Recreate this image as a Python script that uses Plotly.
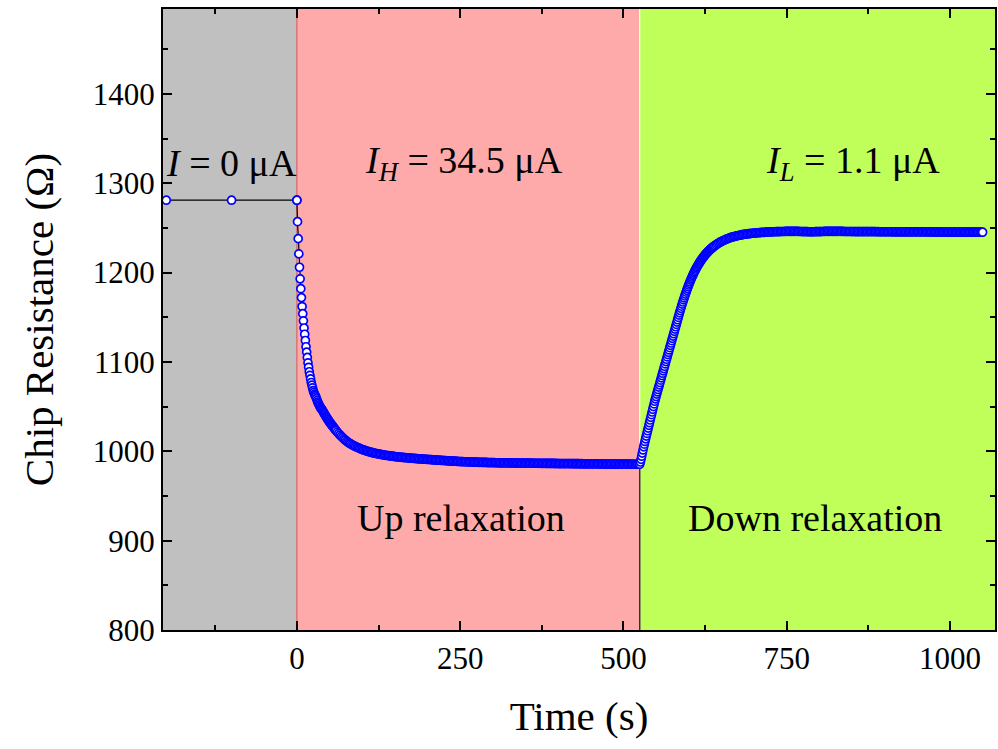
import plotly.graph_objects as go

# ---------------- data ----------------
# Phase boundaries (s)
t_start_up = 0
t_start_down = 525

# I = 0 uA baseline points
t_zero = [-200, -100, 0]
r_zero = [1281, 1281, 1281]

# Up relaxation, 1 s sampling from t = 0
up_fast_start, up_fast_step = 0, 1
r_up_fast = [1281, 1257, 1238, 1221, 1206, 1193, 1182, 1172, 1162, 1154,
             1146, 1138, 1131, 1124, 1117, 1111, 1105, 1099, 1094, 1089,
             1085, 1081, 1077, 1074, 1071, 1068, 1066, 1064, 1062.5, 1061,
             1059, 1057, 1055, 1053.5, 1052, 1050.5, 1049, 1048, 1047, 1046,
             1044.7, 1043.4, 1042.1, 1040.9, 1039.7, 1038.5, 1037.3, 1036.1, 1035, 1033.9,
             1032.8, 1031.8, 1030.8, 1029.8, 1028.9, 1028, 1027, 1026, 1025, 1024.1]

# Up relaxation, 2 s sampling from t = 60
up_slow_start, up_slow_step = 60, 2
r_up_slow = [1023.2, 1021.5, 1019.8, 1018.2, 1016.7, 1015.3, 1013.9, 1012.6, 1011.4, 1010.3,
             1009.3, 1008.4, 1007.5, 1006.7, 1005.9, 1005.2, 1004.5, 1003.8, 1003.2, 1002.6,
             1002.0, 1001.5, 1001.0, 1000.5, 1000.0, 999.6, 999.2, 998.8, 998.4, 998.0,
             997.7, 997.4, 997.1, 996.8, 996.5, 996.2, 996.0, 995.7, 995.5, 995.3,
             995.1, 994.9, 994.7, 994.5, 994.3, 994.1, 993.9, 993.8, 993.6, 993.5,
             993.3, 993.2, 993.0, 992.9, 992.8, 992.6, 992.5, 992.3, 992.2, 992.1,
             992.0, 991.9, 991.8, 991.6, 991.5, 991.4, 991.3, 991.2, 991.1, 991.0,
             990.9, 990.8, 990.7, 990.6, 990.5, 990.4, 990.3, 990.2, 990.1, 990.0,
             989.9, 989.8, 989.7, 989.6, 989.5, 989.4, 989.3, 989.2, 989.1, 989.0,
             988.9, 988.9, 988.8, 988.7, 988.6, 988.5, 988.5, 988.4, 988.3, 988.3,
             988.2, 988.1, 988.1, 988.0, 988.0, 987.9, 987.9, 987.8, 987.8, 987.7,
             987.7, 987.6, 987.6, 987.5, 987.5, 987.5, 987.4, 987.4, 987.4, 987.3,
             987.3, 987.3, 987.2, 987.2, 987.2, 987.1, 987.1, 987.1, 987.0, 987.1,
             987.0, 987.0, 987.0, 986.9, 987.0, 986.9, 986.9, 986.9, 986.8, 986.9,
             986.8, 986.8, 986.8, 986.7, 986.8, 986.7, 986.7, 986.7, 986.7, 986.6,
             986.7, 986.6, 986.6, 986.6, 986.6, 986.5, 986.6, 986.5, 986.5, 986.5,
             986.5, 986.4, 986.5, 986.4, 986.4, 986.4, 986.4, 986.4, 986.3, 986.4,
             986.3, 986.3, 986.3, 986.3, 986.2, 986.3, 986.2, 986.2, 986.2, 986.2,
             986.1, 986.2, 986.1, 986.1, 986.1, 986.1, 986.1, 986.0, 986.1, 986.0,
             986.0, 986.0, 986.0, 986.0, 985.9, 986.0, 985.9, 985.9, 985.9, 985.9,
             985.9, 985.9, 985.8, 985.9, 985.8, 985.8, 985.8, 985.8, 985.8, 985.8,
             985.7, 985.8, 985.7, 985.7, 985.7, 985.7, 985.7, 985.7, 985.6, 985.7,
             985.6, 985.6, 985.6, 985.6, 985.6, 985.6, 985.5, 985.6, 985.5, 985.5,
             985.5, 985.5, 985.5]

# Down relaxation, 1 s sampling from t = 525
down_fast_start, down_fast_step = 525, 1
r_down_fast = [985.5, 988, 991, 994.5, 998, 1001.5, 1005, 1008, 1011, 1014,
               1017, 1020, 1023, 1026, 1029, 1032, 1035, 1038, 1041, 1044,
               1047, 1050, 1053, 1056, 1058.7, 1061.3, 1064, 1066.6, 1069.2, 1071.8,
               1074.4, 1077, 1079.6, 1082.2, 1084.8, 1087.4, 1090, 1092.6, 1095.2, 1097.8,
               1100.4, 1103, 1105.6, 1108.2, 1110.8, 1113.4, 1116, 1118.6, 1121.2, 1123.8,
               1126.4, 1129, 1131.6, 1134.2, 1136.8, 1139.4, 1142, 1144.6, 1147.2, 1149.8,
               1152.4, 1155, 1157.5, 1160, 1162.4, 1164.8, 1167.1, 1169.4, 1171.6, 1173.8,
               1176, 1178.1, 1180.2, 1182.2, 1184.2, 1186.1, 1188, 1189.8, 1191.6, 1193.3,
               1195, 1196.6, 1198.2, 1199.7, 1201.2, 1202.6, 1204, 1205.4, 1206.7, 1208,
               1209.2, 1210.4, 1211.6, 1212.7, 1213.8, 1214.9, 1215.9, 1216.9, 1217.9, 1218.8,
               1219.7, 1220.6, 1221.4, 1222.2, 1223, 1223.8, 1224.5, 1225.2, 1225.9, 1226.6,
               1227.2, 1227.8, 1228.4, 1229, 1229.6, 1230.1]

# Down relaxation, 2 s sampling from t = 642
down_slow_start, down_slow_step = 642, 2
r_down_slow = [1231.2, 1232.2, 1233.1, 1234.0, 1234.8, 1235.5, 1236.2, 1236.9, 1237.5, 1238.1,
               1238.6, 1239.1, 1239.6, 1240.0, 1240.4, 1240.8, 1241.2, 1241.5, 1241.8, 1242.1,
               1242.4, 1242.7, 1242.9, 1243.1, 1243.3, 1243.5, 1243.7, 1243.9, 1244.0, 1244.2,
               1244.3, 1244.5, 1244.6, 1244.7, 1244.8, 1244.9, 1245.0, 1245.1, 1245.2, 1245.3,
               1245.4, 1245.5, 1245.5, 1245.6, 1245.7, 1245.7, 1245.8, 1245.8, 1245.9, 1245.9,
               1246.0, 1246.0, 1246.0, 1246.1, 1246.1, 1246.1, 1246.2, 1246.2, 1246.2, 1246.2,
               1246.2, 1246.2, 1246.1, 1246.1, 1246.0, 1246.0, 1245.9, 1245.9, 1245.8, 1245.8,
               1245.8, 1245.7, 1245.7, 1245.7, 1245.7, 1245.7, 1245.8, 1245.8, 1245.8, 1245.9,
               1245.9, 1246.0, 1246.0, 1246.1, 1246.1, 1246.1, 1246.2, 1246.2, 1246.2, 1246.2,
               1246.2, 1246.2, 1246.2, 1246.2, 1246.1, 1246.1, 1246.1, 1246.1, 1246.0, 1246.0,
               1246.0, 1246.0, 1246.0, 1246.0, 1245.9, 1246.0, 1245.9, 1245.9, 1245.9, 1245.9,
               1245.9, 1245.9, 1245.8, 1245.9, 1245.8, 1245.8, 1245.8, 1245.8, 1245.8, 1245.8,
               1245.8, 1245.8, 1245.8, 1245.7, 1245.8, 1245.7, 1245.7, 1245.7, 1245.7, 1245.7,
               1245.7, 1245.7, 1245.7, 1245.7, 1245.7, 1245.6, 1245.7, 1245.6, 1245.6, 1245.6,
               1245.6, 1245.6, 1245.6, 1245.6, 1245.6, 1245.6, 1245.6, 1245.6, 1245.5, 1245.6,
               1245.5, 1245.5, 1245.5, 1245.5, 1245.5, 1245.5, 1245.5, 1245.5, 1245.5, 1245.5,
               1245.5, 1245.5, 1245.5, 1245.4, 1245.5, 1245.4, 1245.4, 1245.4, 1245.4, 1245.4,
               1245.4, 1245.4, 1245.4, 1245.4, 1245.4, 1245.4, 1245.4, 1245.3, 1245.4, 1245.3,
               1245.3, 1245.3, 1245.3, 1245.3, 1245.3, 1245.3, 1245.3, 1245.3, 1245.3, 1245.3,
               1245.3, 1245.3, 1245.2, 1245.3, 1245.2, 1245.2, 1245.2, 1245.2, 1245.2, 1245.2,
               1245.2, 1245.2, 1245.2, 1245.2, 1245.2]

x_tick_vals = [0, 250, 500, 750, 1000]
y_tick_vals = [800, 900, 1000, 1100, 1200, 1300, 1400]
x_range = [-205, 1069]
y_range = [800, 1495]

label_zero = "<i>I</i> = 0 μA"
label_high = "<i>I</i><sub><i>H</i></sub> = 34.5 μA"
label_low = "<i>I</i><sub><i>L</i></sub> = 1.1 μA"
label_up = "Up relaxation"
label_down = "Down relaxation"


def seg_times(start, step, vals):
    return [start + step * i for i in range(len(vals))]


t_all = (t_zero
         + seg_times(up_fast_start, up_fast_step, r_up_fast)
         + seg_times(up_slow_start, up_slow_step, r_up_slow)
         + seg_times(down_fast_start, down_fast_step, r_down_fast)
         + seg_times(down_slow_start, down_slow_step, r_down_slow))
r_all = r_zero + r_up_fast + r_up_slow + r_down_fast + r_down_slow

FONT = "Liberation Serif"
GRAY = "#C0C0C0"
PINK = "#FFAAAA"
GREEN = "#C0FF5A"

fig = go.Figure()
fig.add_trace(go.Scatter(
    x=t_all, y=r_all, mode="lines+markers",
    line=dict(color="black", width=1.2),
    marker=dict(symbol="circle", size=8, color="white",
                line=dict(color="#0000FF", width=1.7)),
    showlegend=False, hoverinfo="skip"))

shapes = [
    dict(type="rect", xref="x", yref="paper", x0=x_range[0], x1=t_start_up, y0=0, y1=1,
         fillcolor=GRAY, line=dict(width=0), layer="below"),
    dict(type="rect", xref="x", yref="paper", x0=t_start_up, x1=t_start_down, y0=0, y1=1,
         fillcolor=PINK, line=dict(width=0), layer="below"),
    dict(type="rect", xref="x", yref="paper", x0=t_start_down, x1=x_range[1], y0=0, y1=1,
         fillcolor=GREEN, line=dict(width=0), layer="below"),
    dict(type="line", xref="x", yref="paper", x0=t_start_up, x1=t_start_up, y0=0, y1=1,
         line=dict(color="#D85050", width=1), layer="below"),
    dict(type="line", xref="x", yref="paper", x0=t_start_down, x1=t_start_down, y0=0, y1=1,
         line=dict(color="white", width=1), layer="below"),
    dict(type="line", xref="x", yref="y", x0=t_start_down, x1=t_start_down,
         y0=y_range[0], y1=r_down_fast[0],
         line=dict(color="#333333", width=1.5), layer="below"),
]

ann_font = dict(family=FONT, size=38, color="black")
annotations = [
    dict(x=-100, y=1323, xref="x", yref="y", text=label_zero, showarrow=False, font=ann_font),
    dict(x=256, y=1323, xref="x", yref="y", text=label_high, showarrow=False, font=ann_font),
    dict(x=851, y=1323, xref="x", yref="y", text=label_low, showarrow=False, font=ann_font),
    dict(x=251, y=925, xref="x", yref="y", text=label_up, showarrow=False, font=ann_font),
    dict(x=793, y=925, xref="x", yref="y", text=label_down, showarrow=False, font=ann_font),
]

axis_common = dict(
    showline=True, linecolor="black", linewidth=2, mirror="allticks",
    ticks="inside", ticklen=9, tickwidth=2, tickcolor="black",
    showgrid=False, zeroline=False,
    tickfont=dict(family=FONT, size=31, color="black"),
)

fig.update_layout(
    width=998, height=749,
    margin=dict(l=163, r=1, t=9, b=119),
    paper_bgcolor="white", plot_bgcolor="white",
    shapes=shapes, annotations=annotations,
    xaxis=dict(range=x_range, tickvals=x_tick_vals, ticktext=[str(v) for v in x_tick_vals],
               minor=dict(ticks="inside", ticklen=5, tickwidth=2, tickcolor="black",
                          tick0=-125, dtick=125),
               title=dict(text="Time (s)", font=dict(family=FONT, size=41, color="black"),
                          standoff=26),
               **axis_common),
    yaxis=dict(range=y_range, tickvals=y_tick_vals, ticktext=[str(v) for v in y_tick_vals],
               minor=dict(ticks="inside", ticklen=5, tickwidth=2, tickcolor="black",
                          tick0=750, dtick=50),
               title=dict(text="Chip Resistance (Ω)", font=dict(family=FONT, size=41, color="black"),
                          standoff=26),
               **axis_common),
)

fig.write_html("out.html")
